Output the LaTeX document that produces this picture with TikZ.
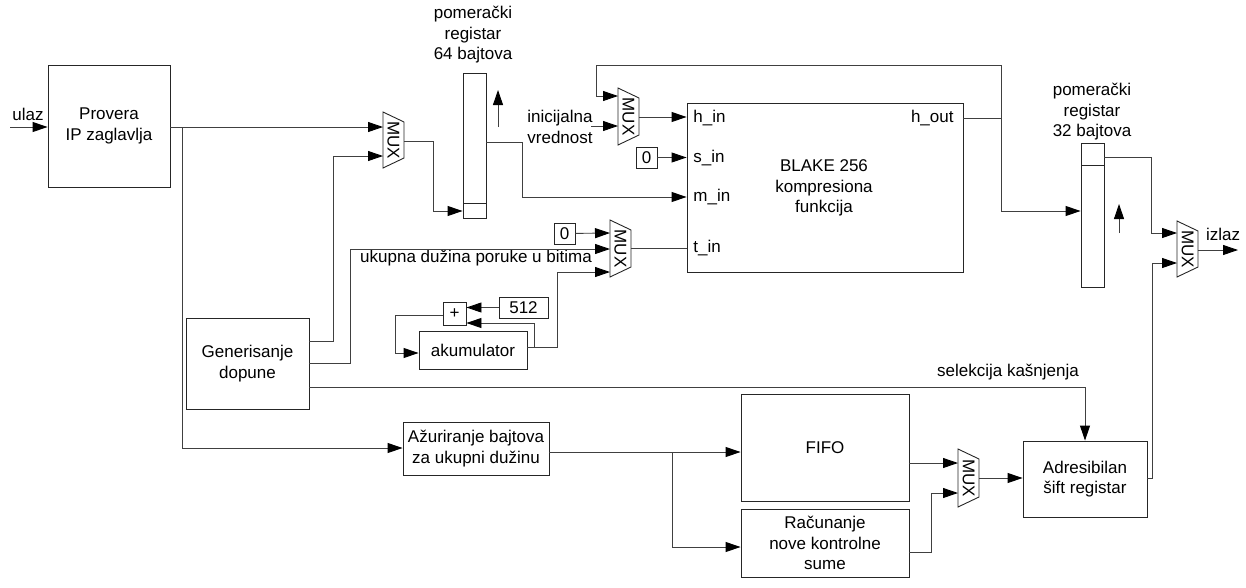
\documentclass[tikz,border=0pt]{standalone}
\usepackage{fontspec}
\setmainfont{Liberation Sans}
\usetikzlibrary{arrows.meta}
\newcommand{\drawmux}[4]{%
  \draw[muxline] (#2,#3) -- (#2+21,#3+10) -- (#2+21,#4-10) -- (#2,#4) -- cycle;
  \node[rotate=-90] (#1) at (#2+10.5,{(#3+#4)/2}) {MUX};
}
\begin{document}
\begin{tikzpicture}[x=1pt,y=-1pt,line width=0.9pt,
  every node/.style={font=\fontsize{17}{20.5}\selectfont, inner sep=0pt, text=black},
  blk/.style={draw=black!85, fill=white, align=center},
  muxline/.style={draw=black!85},
  wire/.style={draw=black!75},
  arr/.style={wire,-{Triangle[length=15pt,width=10pt,black]}},
  lbl/.style={align=center}]
\useasboundingbox (0,0) rectangle (1246,587);

% ---------- boxes ----------
\node[blk, minimum width=122, minimum height=122] (prov) at (109,126) {Provera\\IP zaglavlja};
\node[blk, minimum width=123, minimum height=91] (gen) at (247.5,363.5) {Generisanje\\dopune};
\node[blk, minimum width=146, minimum height=53] (azur) at (476,448.5) {Ažuriranje bajtova\\za ukupni dužinu};
\node[blk, minimum width=168, minimum height=107] (fifo) at (825,447.5) {FIFO};
\node[blk, minimum width=168, minimum height=68] (racun) at (825,543) {Računanje\\nove kontrolne\\sume};
\node[blk, minimum width=124, minimum height=76] (adr) at (1085,479) {Adresibilan\\šift registar};
\node[blk, minimum width=276, minimum height=169] (blake) at (825,187.5) {};
\node[lbl] at (824,188) {BLAKE 256\\kompresiona\\funkcija};
\node[blk, minimum width=108, minimum height=38] (akum) at (473,350) {akumulator};
\node[blk, minimum width=23, minimum height=23] (plus) at (454.5,313.5) {+};
\node[blk, minimum width=49, minimum height=21] (c512) at (523.5,307.5) {512};
\node[blk, minimum width=21, minimum height=21] (zt) at (564.5,233.5) {0};
\node[blk, minimum width=21, minimum height=21] (zs) at (646.5,157.5) {0};

% shift registers
\node[blk, minimum width=23, minimum height=145] (r64) at (474.5,145.5) {};
\draw[black!85] (463,203) -- (486,203);
\node[blk, minimum width=23, minimum height=144] (r32) at (1092.5,215) {};
\draw[black!85] (1081,165) -- (1104,165);

% port labels
\node[anchor=west] (hin) at (693,118) {h\_in};
\node[anchor=west] (sin) at (693,158) {s\_in};
\node[anchor=west] (min) at (693,197) {m\_in};
\node[anchor=west] (tin) at (693,248) {t\_in};
\node[anchor=east] (hout) at (954,118) {h\_out};

% other labels
\node[lbl] (l64) at (473,35) {pomerački\\registar\\64 bajtova};
\node[lbl] (l32) at (1092,112) {pomerački\\registar\\32 bajtova};
\node[align=left] (init) at (560,127) {inicijalna\\vrednost};
\node[anchor=base] (luk) at (476,262) {ukupna dužina poruke u bitima};
\node (lsel) at (1008,372) {selekcija kašnjenja};
\node (lulaz) at (28,114) {ulaz};
\node (lizl) at (1223,234) {izlaz};

% ---------- multiplexers ----------
\drawmux{m1}{383}{112}{168}
\drawmux{m2}{610}{220}{277}
\drawmux{m3}{618}{88}{145}
\drawmux{m4}{1177}{221}{277}
\drawmux{m5}{958}{449}{507}

\coordinate (m1a) at (383,127); \coordinate (m1b) at (383,156); \coordinate (m1o) at (404,141);
\coordinate (m2a) at (610,233); \coordinate (m2b) at (610,249); \coordinate (m2c) at (610,272); \coordinate (m2o) at (631,248);
\coordinate (m3a) at (618,96); \coordinate (m3b) at (618,126); \coordinate (m3o) at (639,117);
\coordinate (m4a) at (1177,233); \coordinate (m4b) at (1177,263); \coordinate (m4o) at (1198,250);
\coordinate (m5a) at (958,463); \coordinate (m5b) at (958,493); \coordinate (m5o) at (979,478);

% ---------- connectors ----------
\coordinate (uin) at (10,127);
\draw[arr] (uin) -- (prov.west |- uin);
\draw[arr] (prov.east |- m1a) -- (m1a);
\draw[arr] (182,127) -- (182,448) -- (azur.west |- 0,448);
\draw[arr] (gen.east |- 0,341) -- (333,341) -- (333,156) -- (m1b);
\draw[arr] (gen.east |- 0,363) -- (350,363) -- (350,249) -- (m2b);
\draw[arr] (gen.east |- 0,387) -- (1085,387) -- (adr.north -| 1085,0);
\draw[arr] (m1o) -- (433,141) -- (433,211) -- (r64.west |- 0,211);
\draw[arr] (r64.east |- 0,142) -- (522,142) -- (522,197) -- (blake.west |- min);
\draw[arr] (498,127) -- (498,90);
\draw[arr] (m3o) -- (blake.west |- m3o);
\draw[arr] (591,126) -- (m3b);
\draw[arr] (zs) -- (blake.west |- zs);
\draw[wire] (blake.east |- 0,118) -- (1001,118);
\draw[arr] (1001,65) -- (1001,211) -- (r32.west |- 0,211);
\draw[arr] (1001,65) -- (596,65) -- (596,96) -- (m3a);
\draw[arr] (zt) -- (m2a);
\draw[wire] (m2o) -- (blake.west |- m2o);
\draw[arr] (akum.east |- 0,347) -- (557,347) -- (557,272) -- (m2c);
\draw[arr] (534,347) -- (534,323) -- (plus.east |- 0,323);
\draw[arr] (c512.west) -- (plus.east |- c512.west);
\draw[arr] (plus.west |- 0,315) -- (395,315) -- (395,353) -- (akum.west |- 0,353);
\draw[arr] (r32.east |- 0,157) -- (1151,157) -- (1151,233) -- (m4a);
\draw[arr] (1119,233) -- (1119,204);
\draw[arr] (adr.east |- 0,478) -- (1152,478) -- (1152,263) -- (m4b);
\coordinate (izl) at (1238,250);
\draw[arr] (m4o) -- (izl);
\draw[arr] (azur.east |- 0,452) -- (fifo.west |- 0,452);
\draw[arr] (672,452) -- (672,547) -- (racun.west |- 0,547);
\draw[arr] (fifo.east |- m5a) -- (m5a);
\draw[arr] (racun.east |- 0,552) -- (931,552) -- (931,493) -- (m5b);
\draw[arr] (m5o) -- (adr.west |- m5o);
\end{tikzpicture}
\end{document}
